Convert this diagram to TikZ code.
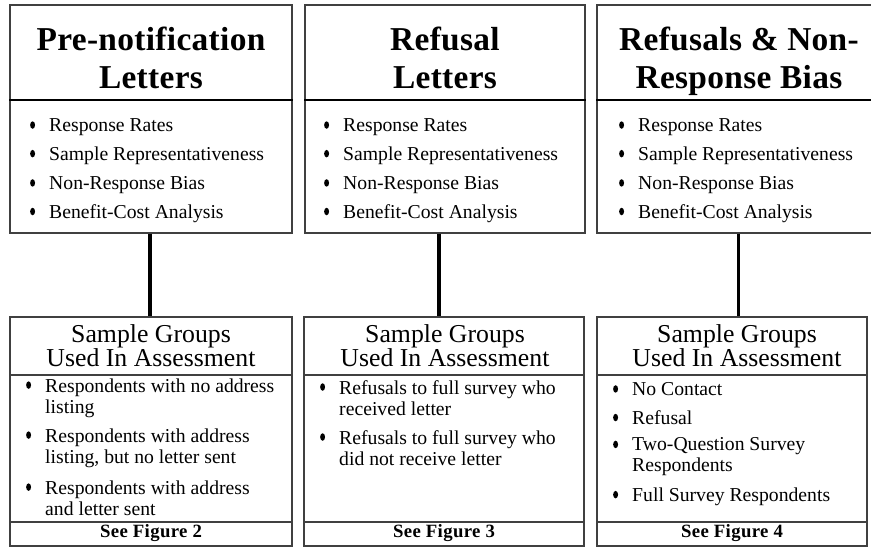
\documentclass[tikz,border=0pt]{standalone}
\usepackage{fontspec}
\setmainfont{Liberation Serif}
\usetikzlibrary{fit,calc,shapes.geometric}

\begin{document}
\begin{tikzpicture}[x=0.03cm,y=-0.03cm,
        panel/.style={draw=black!75,line width=0.9pt,inner sep=0pt},
        title/.style={anchor=north,inner sep=0pt,font=\bfseries\fontsize{28.5}{32.5}\selectfont\addfontfeatures{LetterSpace=1},align=center},
        head/.style={font=\fontsize{22}{20.5}\selectfont,align=center},
        dot/.style={ellipse,fill=black,inner sep=0pt,minimum width=4.2pt,minimum height=6.4pt,anchor=center,xshift=-14pt,yshift=-5.8pt},
        point/.style={anchor=west,align=left,inner sep=0pt,font=\fontsize{16.8}{18}\selectfont,label={[dot]north west:{}}},
        seefig/.style={font=\bfseries\fontsize{16}{16}\selectfont\addfontfeatures{LetterSpace=2}},
        boldrule/.style={line width=2.2pt},
        thinrule/.style={draw=black!75,line width=0.9pt},
        link/.style={line width=3.2pt}]
        \useasboundingbox (0,0) rectangle (871,547);
        % top panels
        \node[panel,fit={(10,5) (292,233)}] (tb1) {};
        \node[panel,fit={(305,5) (585,233)}] (tb2) {};
        \node[panel,fit={(597,5) (880,233)}] (tb3) {};
        \draw[boldrule] (tb1.west |- 0,100) -- (tb1.east |- 0,100);
        \draw[boldrule] (tb2.west |- 0,100) -- (tb2.east |- 0,100);
        \draw[boldrule] (tb3.west |- 0,100) -- (tb3.east |- 0,100);
        \node[title] (t1) at (151,27) {Pre-notification\\Letters};
        \node[title] (t2) at (445,27) {Refusal\\Letters};
        \node[title] (t3) at (739,27) {Refusals \& Non-\\Response Bias};
        % study topics
        \node[point] (p1a) at (49,127) {Response Rates};
        \node[point] (p1b) at (49,156) {Sample Representativeness};
        \node[point] (p1c) at (49,185) {Non-Response Bias};
        \node[point] (p1d) at (49,214) {Benefit-Cost Analysis};
        \node[point] (p2a) at (343,127) {Response Rates};
        \node[point] (p2b) at (343,156) {Sample Representativeness};
        \node[point] (p2c) at (343,185) {Non-Response Bias};
        \node[point] (p2d) at (343,214) {Benefit-Cost Analysis};
        \node[point] (p3a) at (638,127) {Response Rates};
        \node[point] (p3b) at (638,156) {Sample Representativeness};
        \node[point] (p3c) at (638,185) {Non-Response Bias};
        \node[point] (p3d) at (638,214) {Benefit-Cost Analysis};
        % bottom panels
        \node[panel,fit={(10,317) (292,546)}] (bb1) {};
        \node[panel,fit={(304,317) (584,546)}] (bb2) {};
        \node[panel,fit={(597,317) (867,546)}] (bb3) {};
        \foreach \b in {bb1,bb2,bb3} {
          \draw[thinrule] (\b.west |- 0,375) -- (\b.east |- 0,375);
          \draw[thinrule] (\b.west |- 0,522) -- (\b.east |- 0,522);
        }
        \node[head] (h1) at (151,346) {Sample Groups\\Used In Assessment};
        \node[head] (h2) at (445,346) {Sample Groups\\Used In Assessment};
        \node[head] (h3) at (737,346) {Sample Groups\\Used In Assessment};
        % sample groups
        \node[point] (g1a) at (45,398) {Respondents with no address\\listing};
        \node[point] (g1b) at (45,448) {Respondents with address\\listing, but no letter sent};
        \node[point] (g1c) at (45,498) {Respondents with address\\and letter sent};
        \node[point] (g2a) at (339,398) {Refusals to full survey who\\received letter};
        \node[point] (g2b) at (339,448) {Refusals to full survey who\\did not receive letter};
        \node[point] (g3a) at (632,389) {No Contact};
        \node[point] (g3b) at (632,418) {Refusal};
        \node[point] (g3c) at (632,457) {Two-Question Survey\\Respondents};
        \node[point] (g3d) at (632,497) {Full Survey Respondents};
        \node[seefig] (f1) at (151,533) {See Figure 2};
        \node[seefig] (f2) at (444,533) {See Figure 3};
        \node[seefig] (f3) at (732,533) {See Figure 4};
        % links
        \draw[link] ([xshift=-0.03cm]tb1.south) -- ([xshift=-0.03cm]tb1.south |- bb1.north);
        \draw[link] ([xshift=-0.18cm]tb2.south) -- ([xshift=-0.18cm]tb2.south |- bb2.north);
        \draw[link] (tb3.south) -- (tb3.south |- bb3.north);
\end{tikzpicture}
\end{document}
